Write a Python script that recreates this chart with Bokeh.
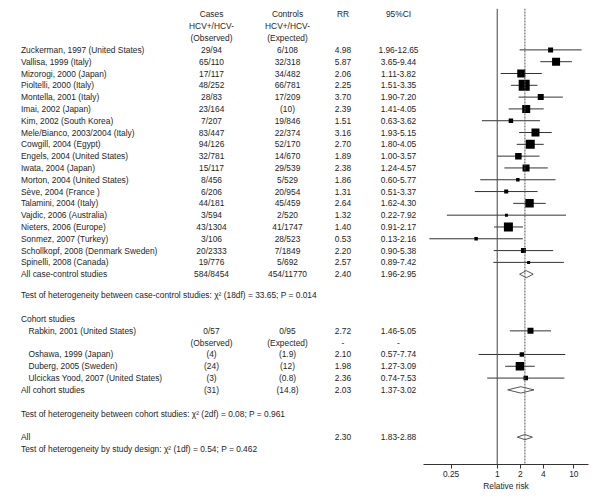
from bokeh.plotting import figure
from bokeh.layouts import row
from bokeh.models import Range1d, FixedTicker, Span, ColumnDataSource
from bokeh.core.properties import value
from bokeh.embed import file_html
from bokeh.resources import INLINE

# ---------------- data ----------------
names_cc = ["Zuckerman, 1997 (United States)", "Vallisa, 1999 (Italy)", "Mizorogi, 2000 (Japan)",
            "Pioltelli, 2000 (Italy)", "Montella, 2001 (Italy)", "Imai, 2002 (Japan)",
            "Kim, 2002 (South Korea)", "Mele/Bianco, 2003/2004 (Italy)", "Cowgill, 2004 (Egypt)",
            "Engels, 2004 (United States)", "Iwata, 2004 (Japan)", "Morton, 2004 (United States)",
            "Sève, 2004 (France )", "Talamini, 2004 (Italy)", "Vajdic, 2006 (Australia)",
            "Nieters, 2006 (Europe)", "Sonmez, 2007 (Turkey)", "Schollkopf, 2008 (Denmark Sweden)",
            "Spinelli, 2008 (Canada)"]
cases_cc = ["29/94", "65/110", "17/117", "48/252", "28/83", "23/164", "7/207", "83/447", "94/126",
            "32/781", "15/117", "8/456", "6/206", "44/181", "3/594", "43/1304", "3/106", "20/2333", "19/776"]
controls_cc = ["6/108", "32/318", "34/482", "66/781", "17/209", "(10)", "19/846", "22/374", "52/170",
               "14/670", "29/539", "5/529", "20/954", "45/459", "2/520", "41/1747", "28/523", "7/1849", "5/692"]
rr_cc = [4.98, 5.87, 2.06, 2.25, 3.70, 2.39, 1.51, 3.16, 2.70, 1.89, 2.38, 1.86, 1.31, 2.64, 1.32, 1.40, 0.53, 2.20, 2.57]
lo_cc = [1.96, 3.65, 1.11, 1.51, 1.90, 1.41, 0.63, 1.93, 1.80, 1.00, 1.24, 0.60, 0.51, 1.62, 0.22, 0.91, 0.13, 0.90, 0.89]
hi_cc = [12.65, 9.44, 3.82, 3.35, 7.20, 4.05, 3.62, 5.15, 4.05, 3.57, 4.57, 5.77, 3.37, 4.30, 7.92, 2.17, 2.16, 5.38, 7.42]
weight_cc = [5, 8, 8, 11, 6, 8, 4.5, 8, 9, 6.5, 7, 3.5, 4, 8.5, 3, 9, 3.5, 5, 3]

names_co = ["Rabkin, 2001 (United States)", "Oshawa, 1999 (Japan)", "Duberg, 2005 (Sweden)",
            "Ulcickas Yood, 2007 (United States)"]
cases_co = ["0/57", "(4)", "(24)", "(3)"]
controls_co = ["0/95", "(1.9)", "(12)", "(0.8)"]
rr_co = [2.72, 2.10, 1.98, 2.36]
lo_co = [1.46, 0.57, 1.27, 0.74]
hi_co = [5.05, 7.74, 3.09, 7.53]
weight_co = [6, 4.5, 8.5, 4.5]

names_sum = ["All case-control studies", "All cohort studies", "All"]
cases_sum = ["584/8454", "(31)", ""]
controls_sum = ["454/11770", "(14.8)", ""]
rr_sum = [2.40, 2.03, 2.30]
lo_sum = [1.96, 1.37, 1.83]
hi_sum = [2.95, 3.02, 2.88]

tests = ["Test of heterogeneity between case-control studies: \u03c7\u00b2 (18df) = 33.65; P = 0.014",
         "Test of heterogeneity between cohort studies: \u03c7\u00b2 (2df) = 0.08; P = 0.961",
         "Test of heterogeneity by study design: \u03c7\u00b2 (1df) = 0.54; P = 0.462"]

header_cases = ["Cases", "HCV+/HCV-", "(Observed)"]
header_controls = ["Controls", "HCV+/HCV-", "(Expected)"]
overall_rr = 2.30
axis_ticks = [0.25, 1, 2, 4, 10]

# ---------------- layout (row positions) ----------------
cc_rows = [3 + i for i in range(len(names_cc))]
sum_rows = [3 + len(names_cc), 31.8, 35.8]
test_rows = [23.8, 33.8, 36.8]
cohort_header_row = 25.8
co_rows = [26.8, 28.8, 29.8, 30.8]
sub_row = 27.8

FONT = "Liberation Sans"
FS = "8.4px"
TC = "#1e1e1e"

yr = Range1d(start=38.12, end=-0.506)
H = 493
BT = 8
BB = 27

# ---------------- left: table ----------------
left = figure(width=423, height=H, x_range=Range1d(0, 415), y_range=yr,
              x_axis_location=None, y_axis_location=None, toolbar_location=None,
              output_backend="svg", min_border_left=8, min_border_right=0,
              min_border_top=BT, min_border_bottom=BB)
left.outline_line_color = None
left.grid.visible = False

X_NAME, X_INDENT, X_CASE, X_CTRL, X_RR, X_CI = 12.5, 20, 203, 279, 334.5, 390


def txt(fig, xs, ys, texts, align="left"):
    src = ColumnDataSource(dict(x=xs, y=ys, t=texts))
    fig.text(x="x", y="y", text="t", source=src, text_font=value(FONT), text_font_size=FS,
             text_color=TC, text_align=align, text_baseline="middle")


def fmt_ci(lo, hi):
    return ["%.2f-%.2f" % (a, b) for a, b in zip(lo, hi)]


# headers
txt(left, [X_CASE] * 3, [0, 1, 2], header_cases, "center")
txt(left, [X_CTRL] * 3, [0, 1, 2], header_controls, "center")
txt(left, [X_RR], [0], ["RR"], "center")
txt(left, [X_CI], [0], ["95%CI"], "center")

# case-control
txt(left, [X_NAME] * len(names_cc), cc_rows, names_cc)
txt(left, [X_CASE] * len(names_cc), cc_rows, cases_cc, "center")
txt(left, [X_CTRL] * len(names_cc), cc_rows, controls_cc, "center")
txt(left, [X_RR] * len(names_cc), cc_rows, ["%.2f" % v for v in rr_cc], "center")
txt(left, [X_CI] * len(names_cc), cc_rows, fmt_ci(lo_cc, hi_cc), "center")

# cohort
txt(left, [X_NAME], [cohort_header_row], ["Cohort studies"])
txt(left, [X_INDENT] * len(names_co), co_rows, names_co)
txt(left, [X_CASE] * len(names_co), co_rows, cases_co, "center")
txt(left, [X_CTRL] * len(names_co), co_rows, controls_co, "center")
txt(left, [X_RR] * len(names_co), co_rows, ["%.2f" % v for v in rr_co], "center")
txt(left, [X_CI] * len(names_co), co_rows, fmt_ci(lo_co, hi_co), "center")
txt(left, [X_CASE, X_CTRL, X_RR, X_CI], [sub_row] * 4, ["(Observed)", "(Expected)", "-", "-"], "center")

# summaries
txt(left, [X_NAME] * 3, sum_rows, names_sum)
txt(left, [X_CASE] * 3, sum_rows, cases_sum, "center")
txt(left, [X_CTRL] * 3, sum_rows, controls_sum, "center")
txt(left, [X_RR] * 3, sum_rows, ["%.2f" % v for v in rr_sum], "center")
txt(left, [X_CI] * 3, sum_rows, fmt_ci(lo_sum, hi_sum), "center")

# tests
txt(left, [X_NAME] * 3, test_rows, tests)

# ---------------- right: forest ----------------
right = figure(width=169, height=H, x_axis_type="log", x_range=Range1d(0.109, 15.56), y_range=yr,
               y_axis_location=None, toolbar_location=None, output_backend="svg",
               min_border_left=0, min_border_right=4, min_border_top=BT, min_border_bottom=BB)
right.outline_line_color = None
right.grid.visible = False

right.add_layout(Span(location=1, dimension="height", line_color="#444444", line_width=1))
right.add_layout(Span(location=overall_rr, dimension="height", line_color="#555555",
                      line_width=1, line_dash="2 1"))

study_rr = rr_cc + rr_co
study_lo = lo_cc + lo_co
study_hi = hi_cc + hi_co
study_rows = cc_rows + co_rows
study_w = weight_cc + weight_co

right.segment(x0=study_lo, x1=study_hi, y0=study_rows, y1=study_rows, line_color="#333333", line_width=1)
right.scatter(x=study_rr, y=study_rows, size=study_w, marker="square", fill_color="black", line_color=None)

dh = [0.3, 0.27, 0.22]
xs = [[a, m, b, m] for a, m, b in zip(lo_sum, rr_sum, hi_sum)]
ys = [[r, r - h, r, r + h] for r, h in zip(sum_rows, dh)]
right.patches(xs=xs, ys=ys, fill_color="white", line_color="#555555", line_width=1)

ax = right.xaxis[0]
ax.ticker = FixedTicker(ticks=axis_ticks)
ax.major_label_overrides = {t: ("%g" % t) for t in axis_ticks}
ax.minor_tick_line_color = None
ax.major_tick_in = 0
ax.major_tick_out = 4
ax.axis_line_color = "#333333"
ax.major_tick_line_color = "#333333"
ax.axis_label = "Relative risk"
ax.axis_label_text_font = FONT
ax.axis_label_text_font_size = FS
ax.axis_label_text_font_style = "normal"
ax.axis_label_text_color = TC
ax.axis_label_standoff = 1
ax.major_label_text_font = FONT
ax.major_label_text_font_size = FS
ax.major_label_text_color = TC
ax.major_label_standoff = 2

layout = row(left, right, spacing=0)
open("out.html", "w").write(file_html(layout, INLINE))
